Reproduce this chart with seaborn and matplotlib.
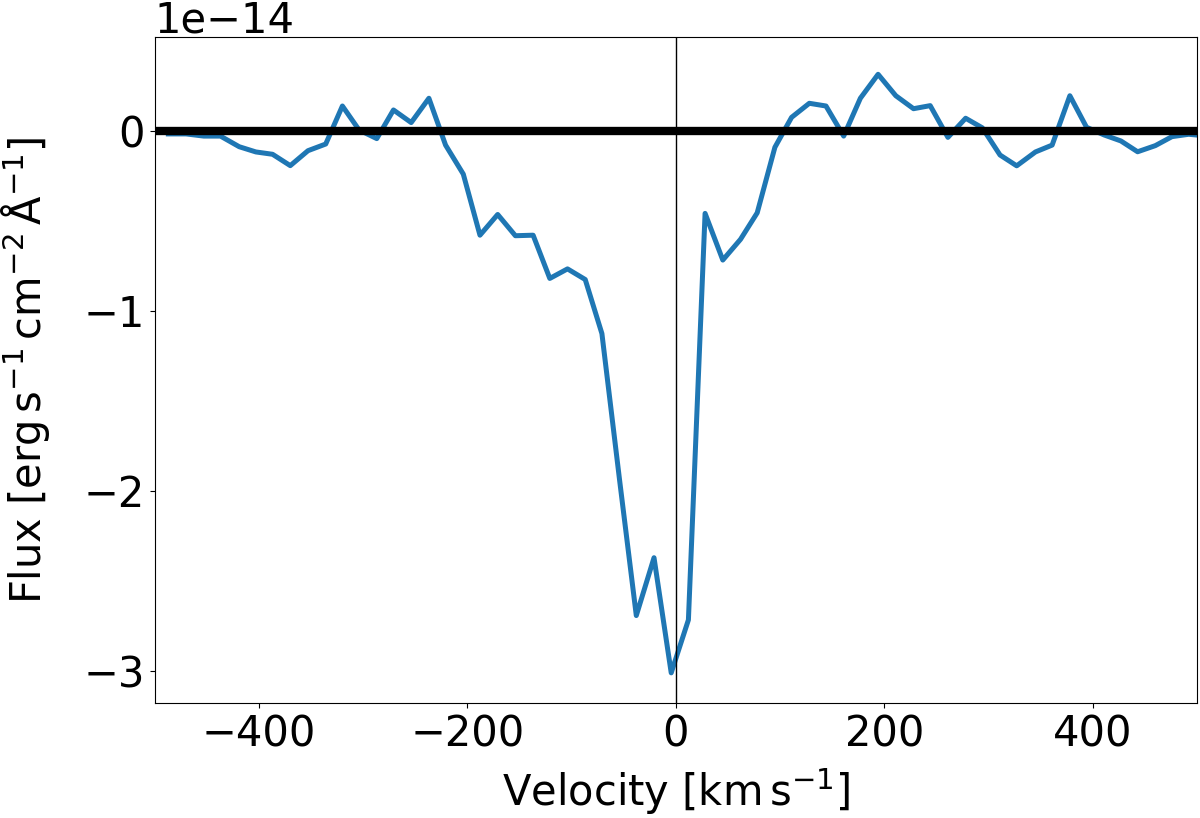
import matplotlib
matplotlib.use("Agg")
import matplotlib.pyplot as plt
import seaborn as sns
import pandas as pd
import numpy as np

# Velocity grid (km/s) and flux (units of 1e-14 erg/s/cm^2/A)
velocity = [-487, -470, -453, -437, -419, -403, -387, -370, -353, -336,
            -320, -304, -287, -271, -254, -237, -221, -204, -188, -171,
            -154, -137, -121, -104, -87, -71, -54, -38, -21, -4.5,
            12, 28, 45, 62, 78, 95, 111, 128, 144, 161,
            177, 194, 211, 228, 244, 261, 278, 294, 311, 327,
            345, 361, 378, 394, 411, 427, 443, 460, 476, 492, 509]
flux_e14 = [-0.019, -0.019, -0.031, -0.031, -0.090, -0.119, -0.132, -0.195, -0.112, -0.075,
            0.136, 0.003, -0.045, 0.114, 0.044, 0.179, -0.081, -0.242, -0.581, -0.466,
            -0.584, -0.581, -0.821, -0.768, -0.827, -1.127, -1.942, -2.692, -2.371, -3.010,
            -2.716, -0.460, -0.719, -0.604, -0.457, -0.093, 0.073, 0.151, 0.136, -0.031,
            0.179, 0.312, 0.193, 0.121, 0.138, -0.038, 0.068, 0.015, -0.136, -0.196,
            -0.119, -0.081, 0.193, 0.018, -0.025, -0.058, -0.118, -0.084, -0.034, -0.021, -0.030]
scale = 1e-14

df = pd.DataFrame({"Velocity": velocity, "Flux": np.array(flux_e14) * scale})

plt.rcParams["font.family"] = ["DejaVu Sans"]
plt.rcParams["font.size"] = 30

fig = plt.figure(figsize=(12, 8.18), dpi=100)
ax = fig.add_axes([0.129, 0.140, 0.9975 - 0.129, 0.955 - 0.140])

sns.lineplot(data=df, x="Velocity", y="Flux", ax=ax, color="#1f77b4", lw=3.6, zorder=2)
ax.axhline(0, color="black", lw=6, zorder=3)
ax.axvline(0, color="black", lw=1.0, zorder=3)

ax.set_xlim(-500, 500)
ax.set_ylim(-3.18e-14, 0.52e-14)
ax.set_xticks([-400, -200, 0, 200, 400])
ax.set_yticks([-3e-14, -2e-14, -1e-14, 0])
ax.tick_params(labelsize=30)
ax.yaxis.get_offset_text().set_fontsize(30)

ax.set_xlabel(r"Velocity [$\mathrm{km\,s^{-1}}$]", fontsize=30, labelpad=8)
ax.set_ylabel(r"Flux [$\mathrm{erg\,s^{-1}\,cm^{-2}\,\AA^{-1}}$]", fontsize=30, labelpad=23)

fig.savefig("out.png", dpi=100)
